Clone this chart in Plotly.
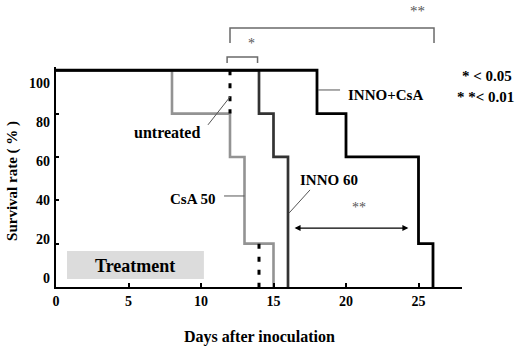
import plotly.graph_objects as go

# ---- data ----
days_csa50 = [0, 8, 12, 13, 15]
surv_csa50 = [100, 80, 60, 20, 0]

days_inno60 = [0, 14, 15, 16]
surv_inno60 = [100, 80, 60, 0]

days_combo = [0, 18, 20, 25, 26]
surv_combo = [100, 80, 60, 20, 0]

# untreated curve only partly visible (dashed segments)
days_untreated = [12, 12, None, 14, 14]
surv_untreated = [100, 80, None, 20, 0]

x_ticks = [0, 5, 10, 15, 20, 25]
y_ticks = [0, 20, 40, 60, 80, 100]

X_MAX = 28
Y_MAX = 101.5

FONT = "Liberation Serif"

def px(day):
    return day / X_MAX

fig = go.Figure()

fig.add_trace(go.Scatter(x=days_csa50, y=surv_csa50, mode="lines", line_shape="hv",
                         line=dict(color="#939393", width=2.6), showlegend=False))
fig.add_trace(go.Scatter(x=days_inno60, y=surv_inno60, mode="lines", line_shape="hv",
                         line=dict(color="#333333", width=2.7), showlegend=False))
fig.add_trace(go.Scatter(x=days_combo, y=surv_combo, mode="lines", line_shape="hv",
                         line=dict(color="#000000", width=2.8), showlegend=False))
fig.add_trace(go.Scatter(x=days_untreated, y=surv_untreated, mode="lines",
                         line=dict(color="#000000", width=3, dash="5px,8px"),
                         connectgaps=False, showlegend=False))
# dummy trace so the label axis is drawn
fig.add_trace(go.Scatter(x=[None], y=[None], yaxis="y2", showlegend=False, hoverinfo="skip"))

shapes = []
# treatment box
shapes.append(dict(type="rect", xref="x", yref="y", x0=0.76, x1=10.2, y0=3.7, y1=16.6,
                   fillcolor="#dcdcdc", line=dict(width=0), layer="below"))
# pointer lines
gray_line = dict(color="#555555", width=1)
shapes.append(dict(type="line", xref="x", yref="y", x0=10.48, y0=74.8, x1=12.0, y1=87.7, line=gray_line))
shapes.append(dict(type="line", xref="x", yref="y", x0=11.59, y0=42, x1=13.0, y1=42, line=gray_line))
shapes.append(dict(type="line", xref="x", yref="y", x0=17.52, y0=44.8, x1=16.07, y1=34.1, line=gray_line))
shapes.append(dict(type="line", xref="x", yref="y", x0=18.07, y0=90.9, x1=19.59, y1=90.9, line=gray_line))
# significance brackets (paper coords, outside the plot)
br = dict(color="#6a6a6a", width=1.5)
shapes.append(dict(type="path", xref="paper", yref="paper",
                   path=f"M {px(12.0)} 1.109 L {px(12.0)} 1.177 L {px(26.07)} 1.177 L {px(26.07)} 1.109",
                   line=br))
shapes.append(dict(type="path", xref="paper", yref="paper",
                   path=f"M {px(11.8)} 1.018 L {px(11.8)} 1.045 L {px(13.9)} 1.045 L {px(13.9)} 1.018",
                   line=br))

lab = dict(family=FONT, size=15, color="black", weight="bold")
C = dict(xanchor="center", yanchor="middle", showarrow=False)
annotations = [
    dict(x=5.45, y=9.7, xref="x", yref="y", text="Treatment",
         font=dict(family=FONT, size=18, color="black", weight="bold"), **C),
    dict(x=7.66, y=71.5, xref="x", yref="y", text="untreated",
         font=dict(family=FONT, size=16, color="black", weight="bold"), **C),
    dict(x=9.38, y=40.6, xref="x", yref="y", text="CsA 50", font=lab, **C),
    dict(x=18.8, y=49.4, xref="x", yref="y", text="INNO 60", font=lab, **C),
    dict(x=22.7, y=88.6, xref="x", yref="y", text="INNO+CsA", font=lab, **C),
    dict(x=20.9, y=36.5, xref="x", yref="y", text="**",
         font=dict(family=FONT, size=14, color="#555555"), **C),
    # double arrow
    dict(x=24.3, y=27.2, ax=16.35, ay=27.2, xref="x", yref="y", axref="x", ayref="y",
         text="", showarrow=True, arrowhead=2, arrowside="end+start", arrowwidth=1.2,
         arrowsize=1, arrowcolor="black"),
    # outside texts
    dict(x=px(24.9), y=1.2545, xref="paper", yref="paper", text="**",
         font=dict(family=FONT, size=15, color="#555555"), **C),
    dict(x=px(13.45), y=1.109, xref="paper", yref="paper", text="*",
         font=dict(family=FONT, size=14, color="#555555"), **C),
    dict(x=1.0616, y=0.959, xref="paper", yref="paper", text="* &lt; 0.05", font=lab, **C),
    dict(x=1.0567, y=0.8636, xref="paper", yref="paper", text="* *&lt; 0.01", font=lab, **C),
    # axis titles
    dict(x=0.5, y=-0.227, xref="paper", yref="paper", text="Days after inoculation",
         font=dict(family=FONT, size=16, color="black", weight="bold"), **C),
    dict(x=-0.106, y=0.482, xref="paper", yref="paper", text="Survival rate ( % )", textangle=-90,
         font=dict(family=FONT, size=15, color="black", weight="bold"), **C),
]

# label-axis range so that labels sit where the reference prints them
lo = (0 - 4) / 0.9
hi = (Y_MAX - 4) / 0.9

fig.update_layout(
    template="none",
    width=520, height=350,
    margin=dict(l=56, r=58, t=67, b=63),
    paper_bgcolor="white", plot_bgcolor="white",
    showlegend=False,
    shapes=shapes,
    annotations=annotations,
    xaxis=dict(range=[0, X_MAX], tickvals=x_ticks, ticks="inside", ticklen=4, tickcolor="black",
               tickwidth=1.5, showline=True, linecolor="black", linewidth=2, showgrid=False,
               zeroline=False, automargin=False,
               tickfont=dict(family=FONT, size=14, color="black", weight="bold")),
    yaxis=dict(range=[0, Y_MAX], tickvals=y_ticks, ticks="inside", ticklen=3, tickcolor="black",
               tickwidth=1.5, showline=True, linecolor="black", linewidth=2, showgrid=False,
               zeroline=False, showticklabels=False, automargin=False),
    yaxis2=dict(overlaying="y", side="left", anchor="x", range=[lo, hi], tickvals=y_ticks,
                ticks="", showline=False, showgrid=False, zeroline=False, automargin=False,
                ticklabelstandoff=5,
                tickfont=dict(family=FONT, size=14, color="black", weight="bold")),
)

fig.write_html("out.html", config={"displayModeBar": False},
               post_script="document.body.style.margin='0';document.body.style.overflow='hidden';")
